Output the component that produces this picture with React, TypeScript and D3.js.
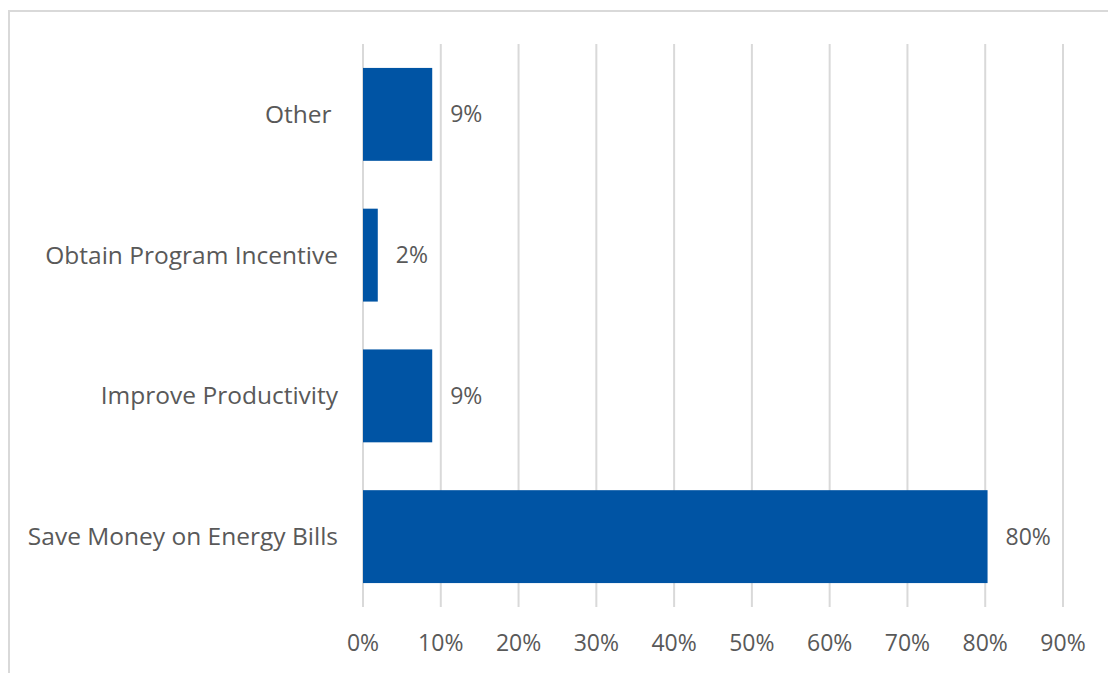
import React from "react";
import * as d3 from "d3";

const categories = ["Other", "Obtain Program Incentive", "Improve Productivity", "Save Money on Energy Bills"];
const values = [8.9, 1.9, 8.9, 80.3];
const valueLabels = ["9%", "2%", "9%", "80%"];
const xTicks = [0, 10, 20, 30, 40, 50, 60, 70, 80, 90];

const W = 1108;
const H = 673;
const FONT = "'Open Sans', 'Noto Sans', sans-serif";

export default function App() {
  const x = d3.scaleLinear().domain([0, 90]).range([363, 1063]);
  const y = d3.scaleBand<string>().domain(categories).range([44, 607]).paddingInner(0.34).paddingOuter(0.17);
  return (
    <svg width={W} height={H} style={{ position: "absolute", left: 0, top: 0 }}>
      <rect x={0} y={0} width={W} height={H} fill="#fff" />
      <rect x={9} y={11} width={W + 20} height={H + 20} fill="none" stroke="#d9d9d9" strokeWidth={2} />
      {xTicks.map((t) => (
        <line key={t} x1={x(t)} x2={x(t)} y1={44} y2={607} stroke="#d9d9d9" strokeWidth={2} />
      ))}
      {categories.map((c, i) => (
        <g key={c}>
          <rect x={x(0)} y={y(c)!} width={x(values[i]) - x(0)} height={y.bandwidth()} fill="#0054A4" />
          <text
            x={x(values[i]) + 18}
            y={y(c)! + y.bandwidth() / 2}
            dy="0.35em"
            fontFamily={FONT}
            fontSize={23}
            fill="#595959"
          >
            {valueLabels[i]}
          </text>
          <text
            x={338}
            y={y(c)! + y.bandwidth() / 2}
            dy="0.35em"
            textAnchor="end"
            fontFamily={FONT}
            fontSize={24.5}
            fill="#595959"
            style={{ whiteSpace: "pre" }}
          >
            {i === 0 ? c + " " : c}
          </text>
        </g>
      ))}
      {xTicks.map((t) => (
        <text key={t} x={x(t)} y={643} dy="0.35em" textAnchor="middle" fontFamily={FONT} fontSize={23} fill="#595959">
          {t + "%"}
        </text>
      ))}
    </svg>
  );
}
